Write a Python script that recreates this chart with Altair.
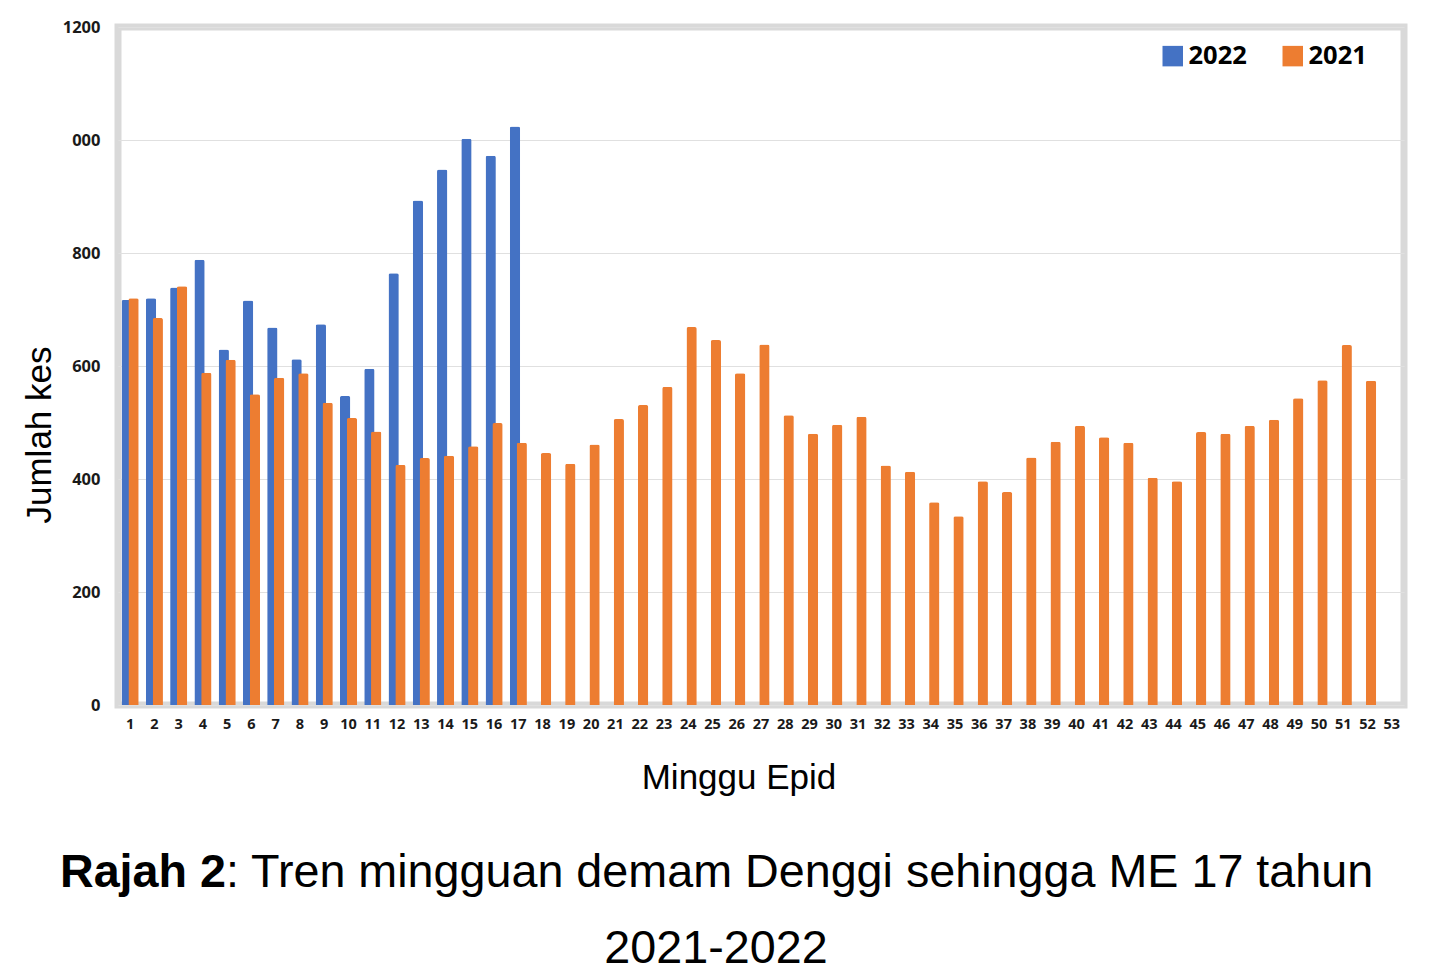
import json
import altair as alt
import pandas as pd

# ---------------- data ----------------
weeks = [str(w) for w in range(1, 54)]
series = ["2022", "2021"]
colors = ["#4472C4", "#ED7D31"]

cases_2022 = [717, 720, 739, 788, 629, 716, 668, 612, 674, 547,
              595, 764, 893, 948, 1002, 972, 1024]
cases_2021 = [720, 685, 741, 588, 611, 550, 579, 587, 535, 508,
              484, 425, 437, 441, 458, 499, 464, 446, 427, 461,
              506, 531, 563, 669, 646, 587, 638, 513, 480, 496,
              510, 424, 413, 359, 334, 396, 377, 438, 466, 494,
              474, 464, 402, 396, 483, 480, 494, 505, 543, 575,
              637, 574]

y_ticks = [0, 200, 400, 600, 800, 1000, 1200]
y_tick_labels = ["0", "200", "400", "600", "800", "000", "1200"]

x_title = "Minggu Epid"
y_title = "Jumlah kes"
caption_bold = "Rajah 2"
caption_rest = ": Tren mingguan demam Denggi sehingga ME 17 tahun"
caption_line2 = "2021-2022"

# ---------------- table ----------------
df = pd.DataFrame({
    "week": weeks[:len(cases_2022)] + weeks[:len(cases_2021)],
    "year": [series[0]] * len(cases_2022) + [series[1]] * len(cases_2021),
    "cases": cases_2022 + cases_2021,
})

label_lookup = json.dumps({str(v): l for v, l in zip(y_ticks, y_tick_labels)})
label_expr = f"{label_lookup}['' + datum.value]"

W, H = 1286, 678

x_enc = alt.X(
    "week:N",
    sort=weeks,
    scale=alt.Scale(domain=weeks, paddingInner=0, paddingOuter=0),
    axis=alt.Axis(title=None, labelAngle=0, ticks=False, domain=False,
                  labelPadding=12, labelFontSize=14.5, labelFont="Open Sans",
                  labelFontWeight="bold", labelColor="#1a1a1a", grid=False),
)
y_enc = alt.Y(
    "cases:Q",
    scale=alt.Scale(domain=[0, 1200], nice=False, zero=True),
    axis=alt.Axis(title=None, values=y_ticks, labelExpr=label_expr,
                  ticks=False, domain=False, labelPadding=18,
                  labelFontSize=16.5, labelFont="Open Sans",
                  labelFontWeight="bold", labelColor="#1a1a1a",
                  gridColor="#e0e0e0", gridWidth=1),
)
color_enc = alt.Color(
    "year:N",
    scale=alt.Scale(domain=series, range=colors),
    legend=alt.Legend(title=None, orient="none", legendX=1042, legendY=16,
                      direction="horizontal", symbolType="square",
                      symbolSize=420, symbolStrokeWidth=0,
                      labelFontSize=25.5, labelFont="Open Sans",
                      labelFontWeight="bold", labelColor="#000000",
                      labelOffset=3, columnPadding=33, padding=0),
)

base = alt.Chart(df).encode(x=x_enc, y=y_enc, color=color_enc)

bars_2022 = base.transform_filter(alt.datum.year == series[0]).mark_bar(
    size=10.3, xOffset=-3.4, cornerRadiusTopLeft=2, cornerRadiusTopRight=2)
bars_2021 = base.transform_filter(alt.datum.year == series[1]).mark_bar(
    size=10.3, xOffset=3.4, cornerRadiusTopLeft=2, cornerRadiusTopRight=2)


def text_layer(txt, **props):
    return alt.Chart(pd.DataFrame({"t": [txt]})).mark_text(
        font="Liberation Sans", color="#000000", **props
    ).encode(text="t:N")


xtitle = text_layer(x_title, fontSize=35, align="center", baseline="alphabetic",
                    x=621, y=762)
ytitle = text_layer(y_title, fontSize=35, align="center", baseline="alphabetic",
                    angle=270, x=-67, y=408)
cap1a = text_layer(caption_bold, fontSize=46.7, fontWeight="bold", align="right",
                   baseline="alphabetic", x=108, y=859.5)
cap1b = text_layer(caption_rest, fontSize=46.7, align="left",
                   baseline="alphabetic", x=108, y=859.5)
cap2 = text_layer(caption_line2, fontSize=46.7, align="center",
                  baseline="alphabetic", x=598, y=936)

chart = alt.layer(bars_2022, bars_2021, xtitle, ytitle, cap1a, cap1b, cap2).properties(
    width=W, height=H,
    autosize=alt.AutoSizeParams(type="none"),
    padding={"left": 110, "top": 19, "right": 25, "bottom": 267},
    background="#ffffff",
).configure_view(stroke="#d9d9d9", strokeWidth=7)

chart.save("out.html", embed_options={"renderer": "svg", "actions": False})
